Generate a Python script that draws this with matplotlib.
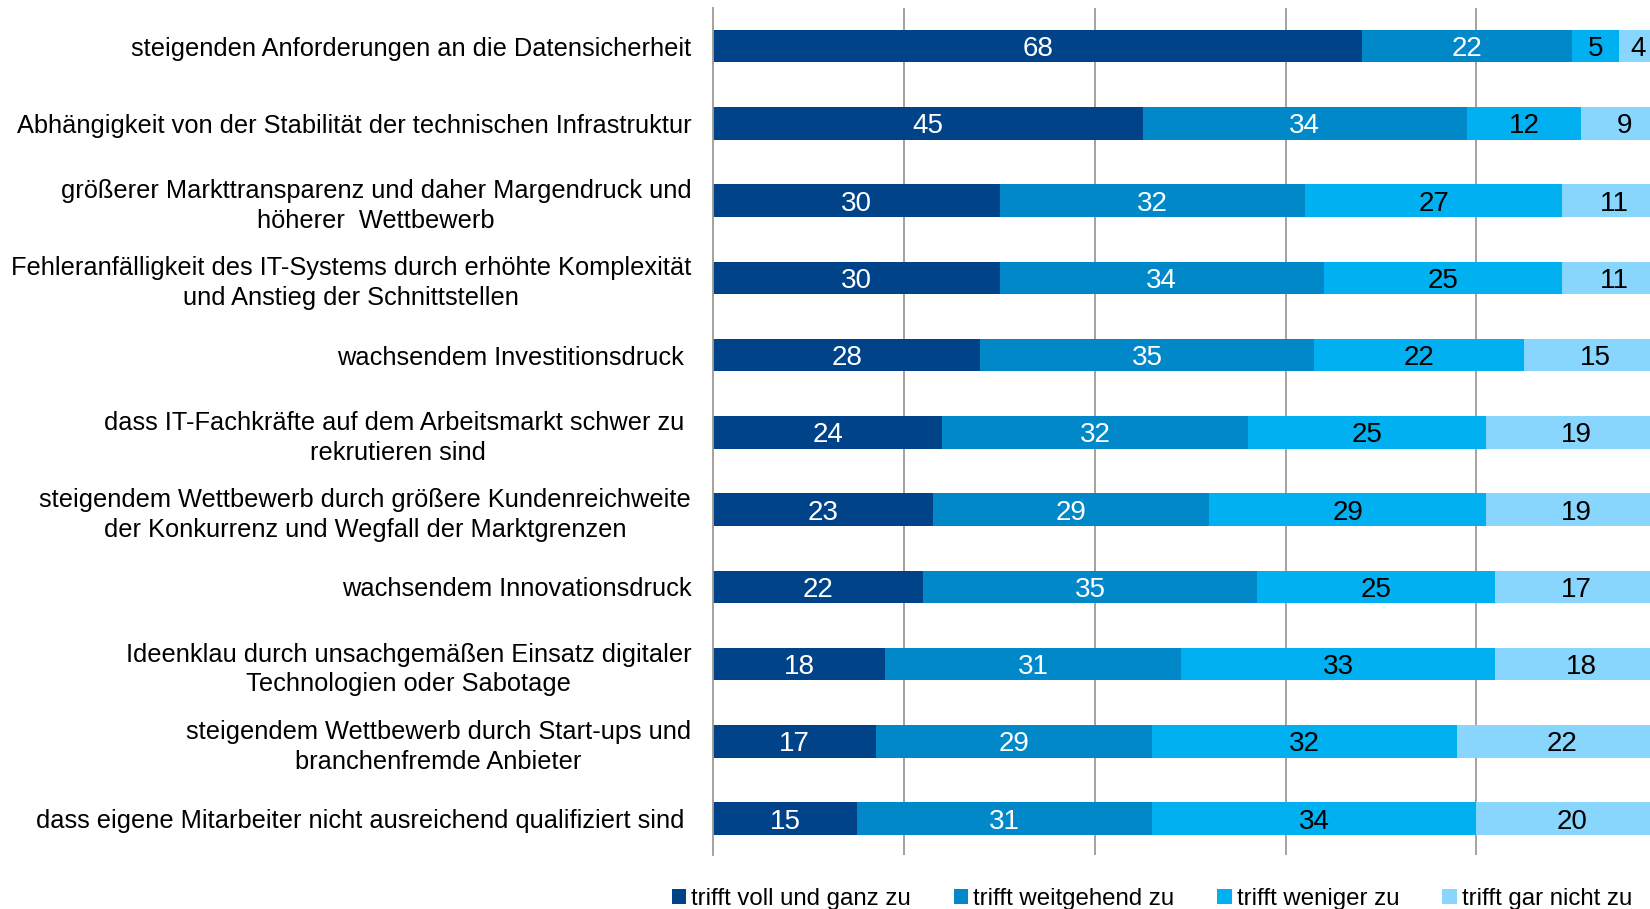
import numpy as np
import matplotlib.pyplot as plt

plt.rcParams['font.family'] = ['Liberation Sans', 'DejaVu Sans']

# Kategorien (von oben nach unten)
kategorien = [
    "steigenden Anforderungen an die Datensicherheit",
    "Abhängigkeit von der Stabilität der technischen Infrastruktur",
    "größerer Markttransparenz und daher Margendruck und\nhöherer  Wettbewerb",
    "Fehleranfälligkeit des IT-Systems durch erhöhte Komplexität\nund Anstieg der Schnittstellen",
    "wachsendem Investitionsdruck ",
    "dass IT-Fachkräfte auf dem Arbeitsmarkt schwer zu \nrekrutieren sind",
    "steigendem Wettbewerb durch größere Kundenreichweite\nder Konkurrenz und Wegfall der Marktgrenzen",
    "wachsendem Innovationsdruck",
    "Ideenklau durch unsachgemäßen Einsatz digitaler\nTechnologien oder Sabotage",
    "steigendem Wettbewerb durch Start-ups und\nbranchenfremde Anbieter",
    "dass eigene Mitarbeiter nicht ausreichend qualifiziert sind ",
]

voll = [68, 45, 30, 30, 28, 24, 23, 22, 18, 17, 15]
weitgehend = [22, 34, 32, 34, 35, 32, 29, 35, 31, 29, 31]
weniger = [5, 12, 27, 25, 22, 25, 29, 25, 33, 32, 34]
gar_nicht = [4, 9, 11, 11, 15, 19, 19, 17, 18, 22, 20]

serien = [voll, weitgehend, weniger, gar_nicht]
legende = ["trifft voll und ganz zu", "trifft weitgehend zu",
           "trifft weniger zu", "trifft gar nicht zu"]
farben = ["#004388", "#0088c8", "#00b0f0", "#88d5fe"]
textfarben = ["white", "white", "black", "black"]

fig = plt.figure(figsize=(16.5, 9.09), dpi=100)
ax = fig.add_axes([0.4324, 0.0594, 0.5676, 0.9314])

y = np.arange(len(kategorien))
links = np.zeros(len(kategorien))
for werte, farbe, tf, name in zip(serien, farben, textfarben, legende):
    werte = np.array(werte)
    ax.barh(y, werte, left=links, height=0.42, color=farbe, label=name,
            zorder=2, linewidth=0)
    for yi, l, w in zip(y, links, werte):
        ax.text(l + w / 2, yi, str(w), ha='center', va='center_baseline',
                color=tf, fontsize=20, zorder=3)
    links += werte

ax.set_xlim(0, 98.2)
ax.set_ylim(10.47, -0.49)
ax.set_xticks([20, 40, 60, 80])
ax.set_xticklabels([])
ax.grid(axis='x', color='#a09a96', linewidth=1.3, zorder=0)
ax.set_yticks(y)
ax.set_yticklabels(kategorien, fontsize=18.3, multialignment='center',
                   linespacing=1.3)
ax.tick_params(axis='both', length=0, pad=16)
for s in ['top', 'right', 'bottom']:
    ax.spines[s].set_visible(False)
ax.spines['left'].set_color('#a09a96')
ax.spines['left'].set_linewidth(1.3)

fig.legend(loc='center', bbox_to_anchor=(0.698, 0.011), ncol=4,
           frameon=False, fontsize=17.3, handlelength=0.6, handleheight=0.6,
           handletextpad=0.2, columnspacing=1.8)

fig.savefig("out.png", dpi=100)
